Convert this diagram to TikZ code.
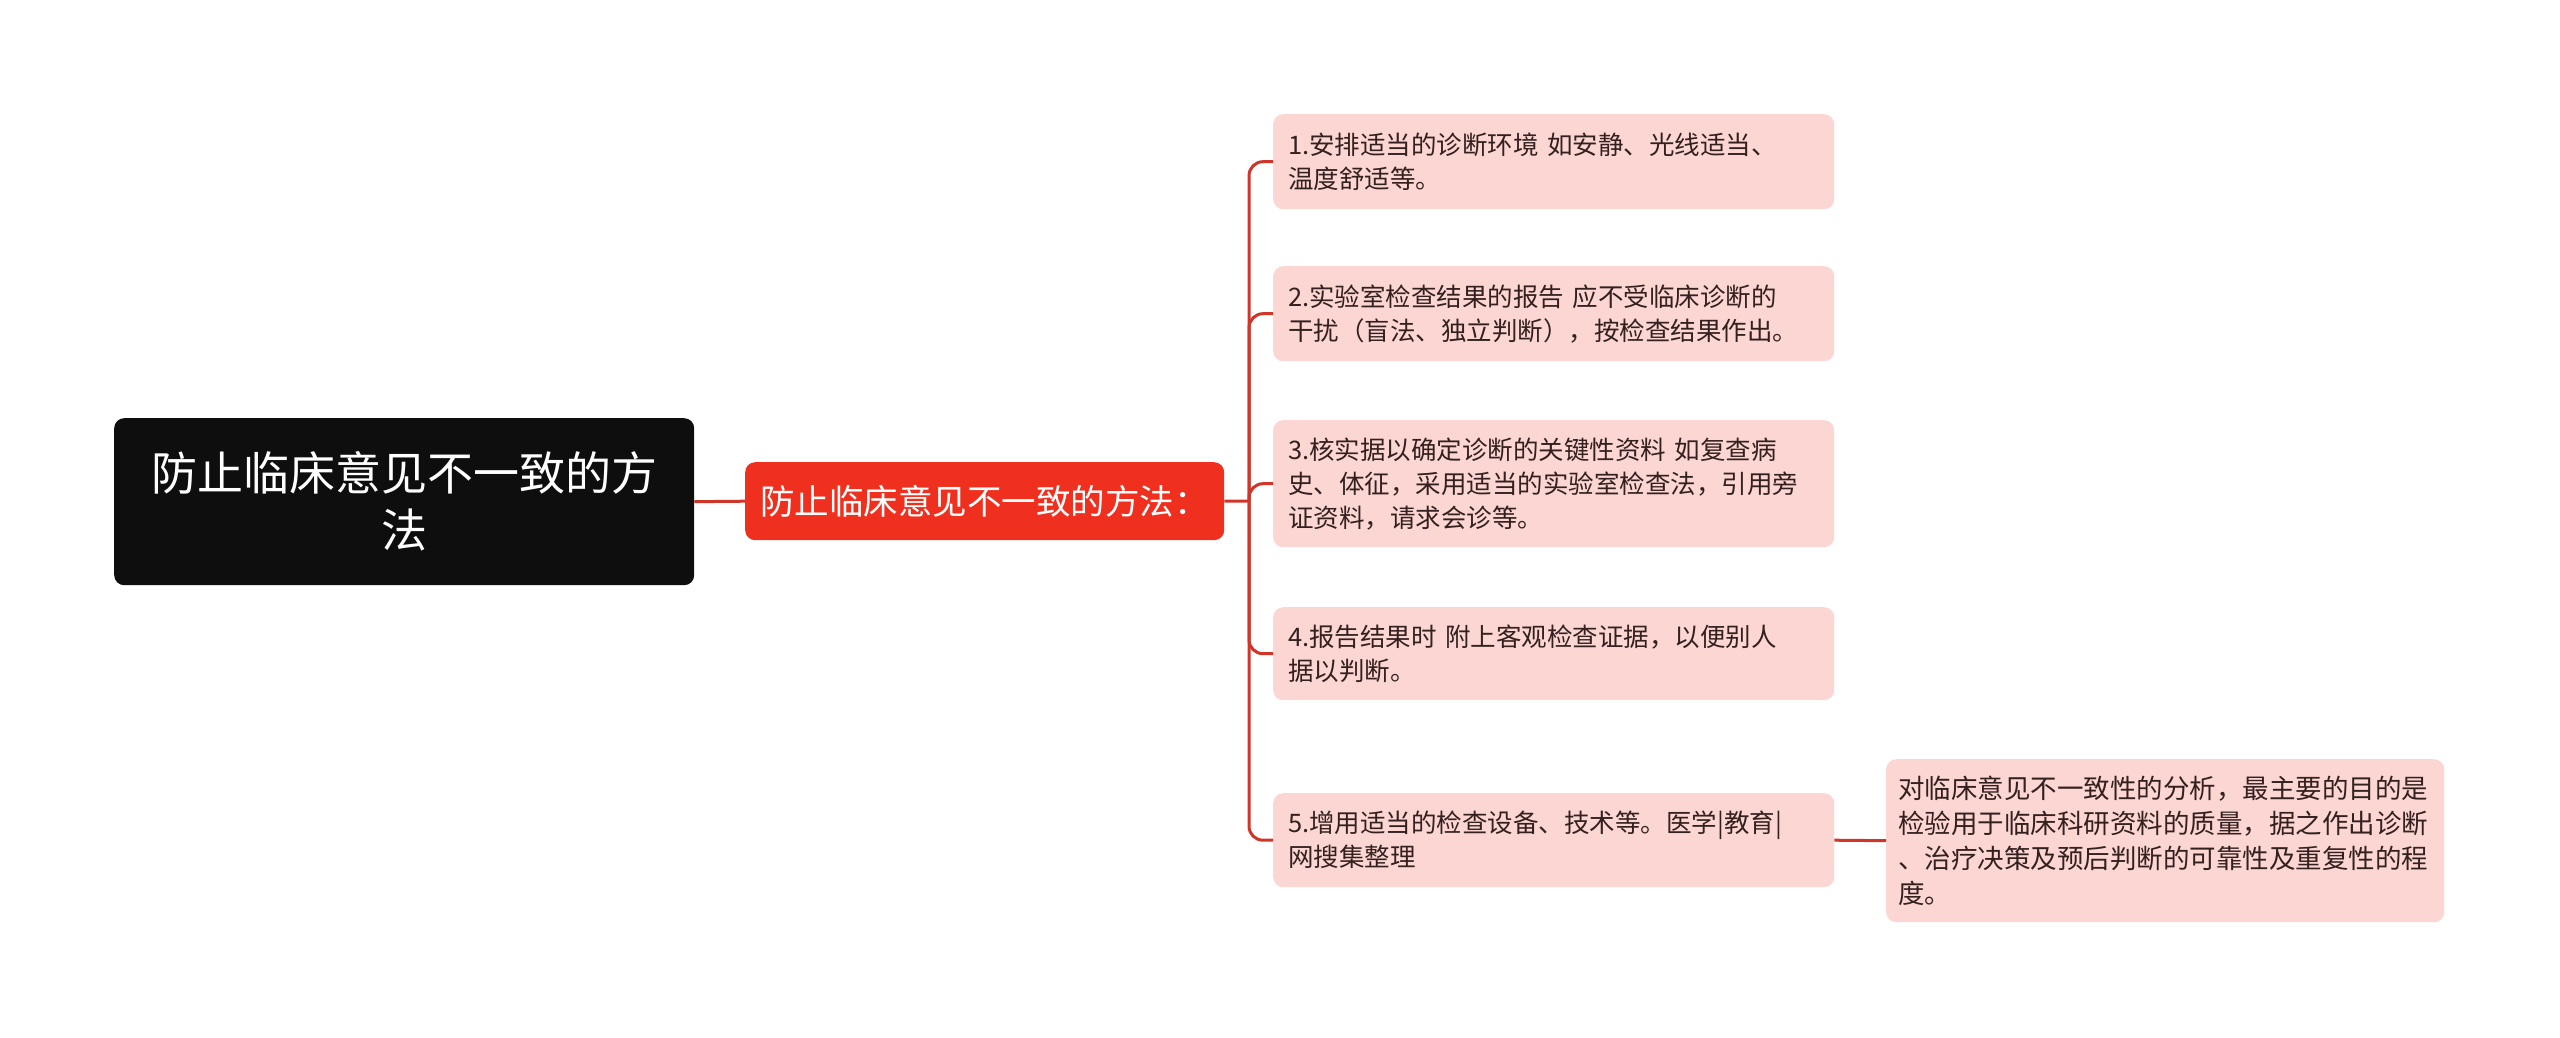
\documentclass[tikz,border=0pt]{standalone}
\usepackage{fontspec}
\setmainfont{Noto Sans CJK SC}
\usepackage{xcolor}
\definecolor{rootblack}{HTML}{0E0E0E}
\definecolor{mainred}{HTML}{F0301E}
\definecolor{linkred}{HTML}{D0352A}
\definecolor{leafpink}{HTML}{FCD6D3}
\definecolor{leaftext}{HTML}{33201F}

\tikzset{
  box/.style={anchor=north west, rounded corners=10pt, inner ysep=0pt},
  leaf/.style={box, fill=leafpink, text=leaftext, inner xsep=15pt,
    text width=531pt, align=left, font=\fontsize{25.5}{34}\selectfont},
  link/.style={draw=linkred, line width=3pt, rounded corners=14pt}
}

\begin{document}
\begin{tikzpicture}[x=1pt,y=-1pt]
\useasboundingbox (0,0) rectangle (2560,1038);

% root and first level
\node [box, fill=rootblack, text=white, text width=560pt, inner xsep=10pt,
  minimum height=167pt, align=center, font=\fontsize{46}{57}\selectfont]
  (root) at (114,418) {防止临床意见不一致的方\\法};
\node [box, fill=mainred, text=white, minimum width=479pt, minimum height=78pt,
  inner xsep=15pt, text width=449pt, align=left,
  font=\fontsize{34.5}{40}\selectfont] (methods) at (745,462) {防止临床意见不一致的方法：};

% leaves
\node [leaf, minimum height=95pt]  (m1) at (1273,114) {1.安排适当的诊断环境 如安静、光线适当、\\温度舒适等。};
\node [leaf, minimum height=95pt]  (m2) at (1273,266) {2.实验室检查结果的报告 应不受临床诊断的\\干扰（盲法、独立判断），按检查结果作出。};
\node [leaf, minimum height=127pt] (m3) at (1273,420) {3.核实据以确定诊断的关键性资料 如复查病\\史、体征，采用适当的实验室检查法，引用旁\\证资料，请求会诊等。};
\node [leaf, minimum height=93pt]  (m4) at (1273,607) {4.报告结果时 附上客观检查证据，以便别人\\据以判断。};
\node [leaf, minimum height=94pt]  (m5) at (1273,793) {5.增用适当的检查设备、技术等。医学|教育|\\网搜集整理};
\node [leaf, minimum height=163pt, inner xsep=12pt, text width=534pt,
  font=\fontsize{26.5}{35}\selectfont] (note) at (1886,759)
  {对临床意见不一致性的分析，最主要的目的是\\检验用于临床科研资料的质量，据之作出诊断\\、治疗决策及预后判断的可靠性及重复性的程\\度。};

% connectors
\coordinate (hub) at (1249,501);
\draw [link] (root.east) -- (methods.west);
\draw [link] (methods.east) -- (hub);
\foreach \m in {m1,m2,m3,m4,m5}
  \draw [link] (hub) |- (\m.west);
\draw [link] (m5.east) -- (note.west);
\end{tikzpicture}
\end{document}
